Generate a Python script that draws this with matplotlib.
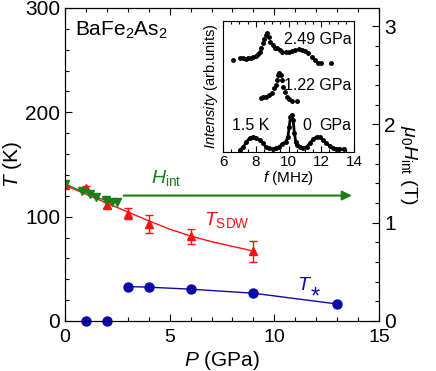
import matplotlib
matplotlib.use('Agg')
import matplotlib.pyplot as plt
from matplotlib.ticker import MultipleLocator

plt.rcParams['font.family'] = ['Liberation Sans', 'DejaVu Sans']
plt.rcParams['mathtext.fontset'] = 'custom'
plt.rcParams['mathtext.rm'] = 'Liberation Sans'
plt.rcParams['mathtext.it'] = 'Liberation Sans:italic'
plt.rcParams['mathtext.bf'] = 'Liberation Sans:bold'

# T_SDW (K) vs pressure (GPa)
p_sdw = [0, 1, 2, 3, 4, 6, 9]
t_sdw = [130, 127.5, 111.5, 103, 93, 81, 67]
t_sdw_err = [0, 2, 3, 5.5, 9, 7, 10]
# guide curve through T_SDW
p_sdw_fit = [0, 1, 2, 3, 4, 5, 6, 7, 8, 9]
t_sdw_fit = [130, 121.5, 113, 104.5, 96, 88, 81.5, 76, 71.5, 67]

# internal field (T) vs pressure
p_hint = [0, 0.8, 1.2, 1.5, 1.95, 2.25, 2.5]
h_int = [1.395, 1.318, 1.295, 1.258, 1.228, 1.210, 1.207]
h_arrow = 1.276
p_arrow = [2.8, 13.7]

# T* (K) vs pressure
p_star = [1, 2, 3, 4, 6, 9, 13]
t_star = [0, 0, 33, 32.4, 30.5, 26.6, 16.3]

# inset spectra: frequency (MHz), intensity (arb. units)
f_249 = [6.58, 7.03, 7.23, 7.39, 7.53, 7.69, 7.83, 8.03, 8.13, 8.23, 8.33, 8.43,
         8.53, 8.63, 8.69, 8.79, 8.89, 9.03, 9.18, 9.32, 9.46, 9.62, 9.82, 10.02,
         10.22, 10.42, 10.61, 10.82, 11.01, 11.21, 11.41, 11.61, 11.81, 12.01,
         12.61]
i_249 = [92, 94, 93.7, 92.7, 93.7, 94.3, 95.3, 96.3, 97.7, 100.3, 103.7, 108.7,
         113, 117, 118.7, 115.3, 110.3, 107, 104.3, 103.7, 102, 100.3, 99.7,
         100.3, 101, 102, 102.7, 102, 101, 98.7, 95.3, 92, 88.7, 88.7, 88.7]
f_122 = [8.29, 8.43, 8.63, 8.83, 8.97, 9.12, 9.22, 9.32, 9.38, 9.44, 9.52, 9.58,
         9.66, 9.76, 9.88, 10.02, 10.22, 10.52]
i_122 = [54, 55, 55, 57, 59, 64, 67, 72, 77, 79, 77, 72, 65, 60, 55, 53, 51, 51]
f_0 = [7.03, 7.23, 7.43, 7.63, 7.83, 8.03, 8.23, 8.43, 8.63, 8.83, 9.03, 9.22,
       9.42, 9.62, 9.82, 9.96, 10.04, 10.12, 10.20, 10.28, 10.36, 10.44, 10.52,
       10.72, 10.91, 11.11, 11.31, 11.51, 11.71, 11.91, 12.11, 12.31, 12.51,
       12.70, 12.91, 13.10, 13.40]
i_0 = [2, 5, 10, 14, 15, 14, 12, 9, 5, 4, 3, 4, 5, 8, 10, 15, 25, 35, 37, 32, 19,
       10, 7, 5, 4, 5, 9, 13, 15, 15, 12, 9, 6, 4, 3, 3, 3]

red = '#ff1010'
green = '#1a7f1a'
blue = '#0a0aa8'

fig = plt.figure(figsize=(4.36, 3.71), dpi=100)
ax = fig.add_axes([0.1491, 0.1348, 0.7202, 0.8437])
ax2 = ax.twinx()

# T_SDW
ax.plot(p_sdw_fit, t_sdw_fit, c=red, lw=1)
ax.errorbar(p_sdw, t_sdw, yerr=t_sdw_err, fmt='^', c=red, ms=6, capsize=3,
            elinewidth=1, capthick=1)

# T*
ax.plot(p_star[2:], t_star[2:], c=blue, lw=1)
ax.plot(p_star, t_star, 'o', c=blue, ms=6.5, clip_on=False, zorder=5)

# H_int
ax2.plot(p_hint, h_int, 'v-', c=green, ms=6, lw=1)
ax2.annotate('', xy=(p_arrow[1], h_arrow), xytext=(p_arrow[0], h_arrow),
             arrowprops=dict(arrowstyle='-|>', color=green, lw=1.5,
                             mutation_scale=14, shrinkA=0, shrinkB=0))

# Labels in panel
ax.text(0.48, 273, r'BaFe$_2$As$_2$', fontsize=15)
ax.text(4.1, 132.5, r'$H_{\rm int}$', fontsize=14, color=green)
ax.text(6.63, 92, r'$T_{\rm SDW}$', fontsize=14, color=red)
ax.text(11.1, 29.5, r'$T$', fontsize=14, color=blue)
ax.text(11.75, 17, '*', fontsize=17, color=blue)

# Axes
ax.set_xlim(0, 15)
ax.set_ylim(0, 300)
ax2.set_ylim(0, 3.184)
ax.xaxis.set_major_locator(MultipleLocator(5))
ax.xaxis.set_minor_locator(MultipleLocator(1))
ax.yaxis.set_major_locator(MultipleLocator(100))
ax.yaxis.set_minor_locator(MultipleLocator(20))
ax2.yaxis.set_major_locator(MultipleLocator(1))
ax2.yaxis.set_minor_locator(MultipleLocator(0.2))
ax.tick_params(which='both', direction='in', top=True, right=False, labelsize=14)
ax.tick_params(axis='y', labelsize=15)
ax.tick_params(which='major', length=5, width=0.8)
ax.tick_params(which='minor', length=3, width=0.8)
ax.tick_params(axis='x', pad=6)
ax2.tick_params(which='both', direction='in', labelsize=15)
ax2.tick_params(which='major', length=5, width=0.8)
ax2.tick_params(which='minor', length=3, width=0.8)

ax.set_xlabel(r'$P$ (GPa)', fontsize=15, labelpad=2)
ax.set_ylabel(r'$T$ (K)', fontsize=15, labelpad=1)
ax2.set_ylabel(r'$\mu_0H_{\rm int}$ (T)', fontsize=14, rotation=-90, labelpad=17)

# Inset
axi = fig.add_axes([0.5115, 0.5903, 0.3005, 0.3531])
axi.plot(f_249, i_249, 'o', c='k', ms=2.5)
axi.plot(f_122, i_122, 'o', c='k', ms=2.5)
axi.plot(f_0, i_0, 'o-', c='k', ms=2.5, lw=2)
axi.text(13.85, 107.7, '2.49 GPa', fontsize=11.5, ha='right')
axi.text(13.85, 62, '1.22 GPa', fontsize=11.5, ha='right')
axi.text(10.85, 22, '0', fontsize=11.5)
axi.text(13.85, 22, 'GPa', fontsize=11.5, ha='right')
axi.text(6.54, 22, '1.5 K', fontsize=11.5)
axi.set_xlim(6, 14)
axi.set_ylim(0, 131)
axi.xaxis.set_major_locator(MultipleLocator(2))
axi.xaxis.set_minor_locator(MultipleLocator(0.5))
axi.set_yticks([])
axi.tick_params(which='both', direction='in', top=True, labelsize=11, pad=2)
axi.tick_params(which='major', length=4, width=0.8)
axi.tick_params(which='minor', length=2.5, width=0.8)
axi.set_xlabel(r'$f$ (MHz)', fontsize=11, labelpad=0)
axi.set_ylabel(r'$Intensity$ (arb.units)', fontsize=10.5, labelpad=2)

fig.savefig('out.png', dpi=100)
